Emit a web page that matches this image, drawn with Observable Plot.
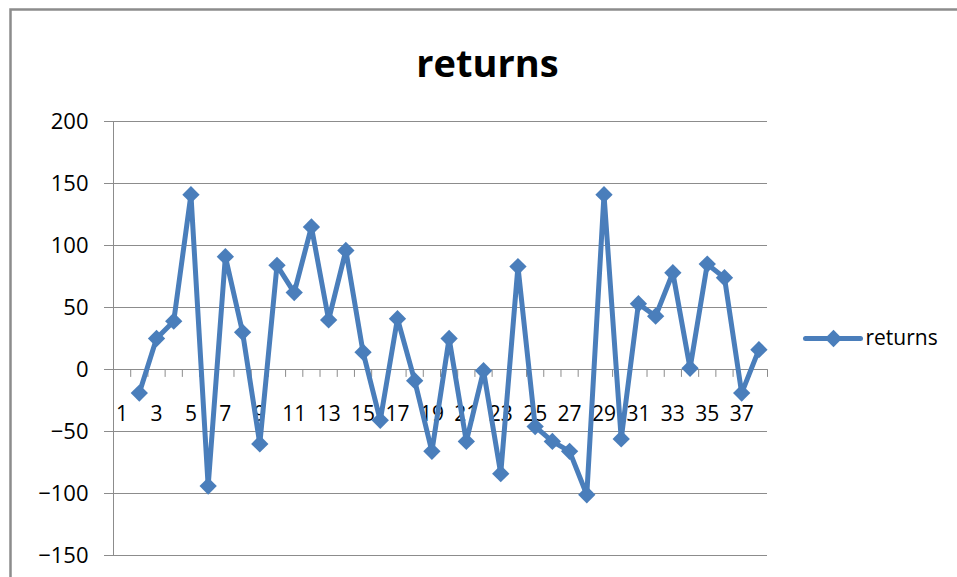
<!DOCTYPE html>
<html><head><meta charset="utf-8">
<script src="https://cdn.jsdelivr.net/npm/d3@7"></script>
<script src="https://cdn.jsdelivr.net/npm/@observablehq/plot@0.6"></script>
<style>html,body{margin:0;padding:0;background:#fff;overflow:hidden}</style>
</head><body><div id="chart"></div>
<script>
const title = "returns";
const seriesName = "returns";
const periods = [1,2,3,4,5,6,7,8,9,10,11,12,13,14,15,16,17,18,19,20,21,22,23,24,25,26,27,28,29,30,31,32,33,34,35,36,37,38];
const returns = [null,-19,25,39,141,-94,91,30,-60,84,62,115,40,96,14,-41,41,-9,-66,25,-58,-1,-84,83,-46,-58,-66,-101,141,-56,53,43,78,1,85,74,-19,16];
const xTickLabels = [1,3,5,7,9,11,13,15,17,19,21,23,25,27,29,31,33,35,37];
const yTicks = [-150,-100,-50,0,50,100,150,200];

const blue = "#4a7ebb";
const gray = "#8c8c8c";
const data = periods.map((p, i) => ({period: p, value: returns[i]}));
const boundaries = periods.map(p => p - 0.5).concat([periods[periods.length - 1] + 0.5]);
const segShape = {draw(context, l) { context.moveTo(0, 0); context.lineTo(0, -l); }};

const chart = Plot.plot({
  width: 957, height: 577,
  marginLeft: 113, marginRight: 190, marginTop: 121, marginBottom: 22,
  style: {fontFamily: "'Open Sans', sans-serif", background: "white", color: "#000"},
  x: {domain: [boundaries[0], boundaries[boundaries.length - 1]], axis: null},
  y: {domain: [yTicks[0], yTicks[yTicks.length - 1]]},
  marks: [
    Plot.frame({stroke: gray, strokeWidth: 2.5, insetLeft: -103, insetTop: -112, insetRight: -193, insetBottom: -25}),
    Plot.ruleY(yTicks, {stroke: gray, strokeWidth: 1}),
    Plot.axisY({ticks: yTicks, tickSize: 9, tickPadding: 16, fontSize: 22, stroke: gray, fill: "#000", label: null}),
    Plot.ruleX([boundaries[0]], {stroke: gray, strokeWidth: 1}),
    Plot.vector(boundaries, {x: d => d, y: 0, length: 7, rotate: 180, anchor: "start", stroke: gray, strokeWidth: 1, shape: segShape}),
    Plot.text(xTickLabels, {x: d => d, y: 0, dy: 37, lineAnchor: "top", fontSize: 21, fill: "#000", text: d => String(d)}),
    Plot.line(data, {x: "period", y: "value", stroke: blue, strokeWidth: 5, strokeLinejoin: "miter"}),
    Plot.dot(data, {x: "period", y: "value", symbol: "diamond2", r: 7.8, fill: blue, stroke: null}),
    Plot.vector([seriesName], {frameAnchor: "right", dx: 38, rotate: 90, length: 55, anchor: "start", stroke: blue, strokeWidth: 5, shape: segShape}),
    Plot.dot([seriesName], {frameAnchor: "right", dx: 66, symbol: "diamond2", r: 7.8, fill: blue, stroke: null}),
    Plot.text([seriesName], {frameAnchor: "right", dx: 98, textAnchor: "start", fontSize: 21, fill: "#000", text: d => d}),
    Plot.text([title], {frameAnchor: "top", dx: 47, dy: -45, lineAnchor: "bottom", fontSize: 38, fontWeight: "bold", fill: "#000", text: d => d})
  ]
});
document.getElementById("chart").appendChild(chart);
</script>
</body></html>
